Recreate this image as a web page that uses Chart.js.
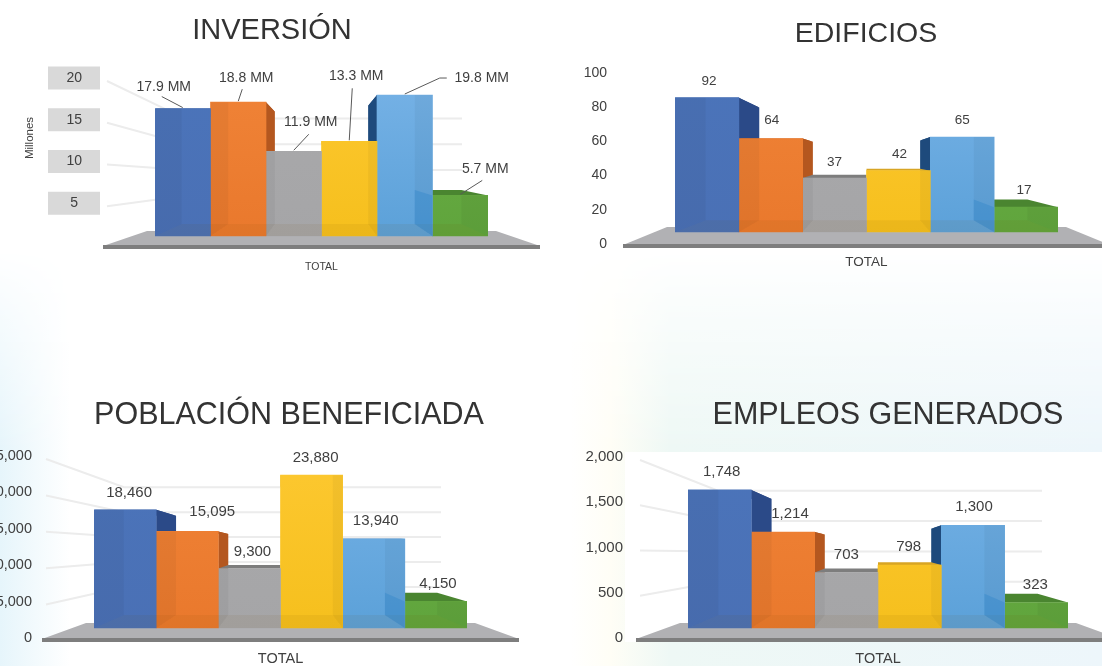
<!DOCTYPE html>
<html>
<head>
<meta charset="utf-8">
<title>Resumen</title>
<script src="https://cdn.jsdelivr.net/npm/chart.js@4"></script>
<style>
    html, body { margin: 0; padding: 0; }
    body { position: relative; width: 1102px; height: 666px; overflow: hidden; background: #fff; }
    #tint {
        position: absolute; left: 0; top: 250px; width: 1102px; height: 416px;
        background: linear-gradient(90deg, #e6f5fb 0, #fff 70px, #fff 570px, #fffef6 610px, #eef8f5 670px, #edf6fb 1102px);
        -webkit-mask-image: linear-gradient(180deg, transparent 0, rgba(0,0,0,0.35) 60px, #000 200px);
        mask-image: linear-gradient(180deg, transparent 0, rgba(0,0,0,0.35) 60px, #000 200px);
    }
    #paper { position: absolute; left: 625px; top: 452px; width: 477px; height: 190px; background: #fff; }
    canvas { position: absolute; filter: blur(0.4px); }
</style>
</head>
<body>
<div id="tint"></div>
<div id="paper"></div>
<canvas id="inversion"></canvas>
<canvas id="edificios"></canvas>
<canvas id="poblacion"></canvas>
<canvas id="empleos"></canvas>
<script>
    // Data
    const categories = ['TOTAL'];
    const inversionValues = [17.9, 18.8, 11.9, 13.3, 19.8, 5.7];
    const edificiosValues = [92, 64, 37, 42, 65, 17];
    const poblacionValues = [18460, 15095, 9300, 23880, 13940, 4150];
    const empleosValues = [1748, 1214, 703, 798, 1300, 323];

    const inversionTicks = [5, 10, 15, 20];
    const edificiosTicks = [0, 20, 40, 60, 80, 100];
    const poblacionTicks = [0, 5000, 10000, 15000, 20000, 25000];
    const empleosTicks = [0, 500, 1000, 1500, 2000];

    // Colours per bar: front top, front bottom, shaded side
    const barColors = ['#4b74ba', '#f08337', '#a9a9ab', '#fdc830', '#76b2e6', '#6cae46'];
    const barColorsLow = ['#4a70b5', '#e9782c', '#a5a5a7', '#f5bf1c', '#5aa0d8', '#5fa43c'];
    const sideColors = ['#2b4a88', '#b4571f', '#7d7d7d', '#d8a524', '#1e4a7c', '#4a8530'];
    const fontName = '"Liberation Sans", Arial, sans-serif';

    function formatPlain(v) {
        return v.toLocaleString('en-US');
    }

    // Draws the floor, back wall lines, box faces and labels around the real bars
    function makeScene(cfg) {
        function project(chart, x, y) {
            const a = chart.chartArea;
            const vx = (a.left + a.right) / 2;
            const vy = a.top + (a.bottom - a.top) * 0.5;
            return [x + (vx - x) * 0.16, y + (vy - y) * 0.16];
        }
        function poly(ctx, pts, color) {
            ctx.fillStyle = color;
            ctx.beginPath();
            pts.forEach((p, i) => i ? ctx.lineTo(p[0], p[1]) : ctx.moveTo(p[0], p[1]));
            ctx.closePath();
            ctx.fill();
        }
        function barBox(chart, i) {
            const b = chart.getDatasetMeta(i).data[0];
            return { x1: b.x - b.width / 2, x2: b.x + b.width / 2, top: b.y, base: b.base, cx: b.x };
        }
        return {
            id: 'scene',
            afterLayout(chart) {
                // Center the title on the whole canvas, not only up to the padding
                chart.titleBlock.left = 0;
                chart.titleBlock.right = chart.width;
            },
            beforeDatasetsDraw(chart) {
                const ctx = chart.ctx, a = chart.chartArea;
                const front = chart.scales.y, back = chart.scales.yBack;
                ctx.save();

                // Perspective grid lines
                if (cfg.grid) {
                    ctx.strokeStyle = '#ececec';
                    ctx.lineWidth = 2;
                    cfg.ticks.forEach(v => {
                        if (v === 0) return;
                        const yf = front.getPixelForValue(v);
                        const yb = back.getPixelForValue(v);
                        const yw = yb + (yb - yf) * 1.6;
                        ctx.beginPath();
                        ctx.moveTo(a.left - 48, yf + 3);
                        ctx.lineTo(a.left + 30, yw);
                        ctx.lineTo(a.right - 26, yw);
                        ctx.stroke();
                    });
                }

                // Floor
                const y0 = front.getPixelForValue(0);
                const yb0 = back.getPixelForValue(0);
                poly(ctx, [[a.left - 8, yb0 - 5], [a.right + 8, yb0 - 5], [a.right + 52, y0 + 1], [a.left - 52, y0 + 1]], '#b1b1b4');
                ctx.fillStyle = '#7e7e7e';
                ctx.fillRect(a.left - 52, y0, a.right - a.left + 104, 4);

                // Back faces, outer bars first so that inner ones sit on top
                [0, 5, 1, 4, 2, 3].forEach(i => {
                    const b = barBox(chart, i);
                    const mid = (a.left + a.right) / 2;
                    const edge = b.cx < mid ? b.x2 : b.x1;
                    poly(ctx, [[b.x1, b.top], [b.x2, b.top], project(chart, b.x2, b.top), project(chart, b.x1, b.top)], sideColors[i]);
                    poly(ctx, [[edge, b.top], [edge, b.base], project(chart, edge, b.base), project(chart, edge, b.top)], sideColors[i]);
                });
                ctx.restore();
            },
            afterDatasetsDraw(chart) {
                const ctx = chart.ctx, a = chart.chartArea;
                const mid = (a.left + a.right) / 2;
                ctx.save();

                // Faces seen through the translucent fronts
                for (let i = 0; i < 6; i++) {
                    const b = barBox(chart, i);
                    const outer = b.cx < mid ? b.x1 : b.x2;
                    poly(ctx, [[b.x1, b.base], [b.x2, b.base], project(chart, b.x2, b.base), project(chart, b.x1, b.base)], 'rgba(120,70,0,0.07)');
                    poly(ctx, [[outer, b.top], [outer, b.base], project(chart, outer, b.base), [project(chart, outer, b.top)[0], b.top]], 'rgba(0,0,0,0.04)');
                }
                const g = barBox(chart, 5);
                const gp = project(chart, g.x1, g.base), gt = project(chart, g.x1, g.top);
                poly(ctx, [[g.x1, g.top], [g.x1, g.base], gp, gt], 'rgba(40,130,200,0.35)');

                // Leader lines
                ctx.strokeStyle = '#595959';
                ctx.lineWidth = 1;
                (cfg.leaders || []).forEach((pts, i) => {
                    const b = barBox(chart, i);
                    ctx.beginPath();
                    ctx.moveTo(b.cx, b.top - 1);
                    pts.forEach(p => ctx.lineTo(b.cx + p[0], b.top + p[1]));
                    ctx.stroke();
                });

                // Value labels
                ctx.fillStyle = '#404040';
                ctx.font = cfg.labelSize + 'px ' + fontName;
                ctx.textAlign = 'center';
                ctx.textBaseline = 'middle';
                cfg.values.forEach((v, i) => {
                    const b = barBox(chart, i);
                    const off = cfg.labelOffsets[i];
                    ctx.fillText(cfg.format(v), b.cx + off[0], b.top + off[1]);
                });
                ctx.restore();
            },
            beforeDraw(chart) {
                if (!cfg.boxes) return;
                const ctx = chart.ctx, front = chart.scales.y;
                ctx.save();
                ctx.fillStyle = '#d9d9d9';
                cfg.ticks.forEach(v => {
                    ctx.fillRect(48, front.getPixelForValue(v) - 11.5, 52, 23);
                });
                ctx.fillStyle = '#404040';
                ctx.font = '11.5px ' + fontName;
                ctx.textAlign = 'center';
                ctx.textBaseline = 'middle';
                ctx.translate(30, 138);
                ctx.rotate(-Math.PI / 2);
                ctx.fillText('Millones', 0, 0);
                ctx.restore();
            }
        };
    }

    function drawPanel(cfg) {
        const canvas = document.getElementById(cfg.id);
        canvas.style.left = cfg.left + 'px';
        canvas.style.top = cfg.top + 'px';
        canvas.style.width = cfg.width + 'px';
        canvas.style.height = cfg.height + 'px';
        canvas.width = cfg.width;
        canvas.height = cfg.height;

        const lineH = cfg.titleSize * 1.2;
        const padTop = cfg.titleY - cfg.top - lineH / 2;
        const padBottom = cfg.frontTop - cfg.top - padTop - lineH;
        const pxPerUnit = cfg.pxPerUnit;

        new Chart(canvas, {
            type: 'bar',
            data: {
                labels: categories,
                datasets: cfg.values.map((v, i) => ({
                    label: cfg.format(v),
                    data: [v],
                    yAxisID: 'yBack',
                    backgroundColor: function(c) {
                        const area = c.chart.chartArea;
                        if (!area) return barColors[i];
                        const g = c.chart.ctx.createLinearGradient(0, area.top, 0, area.bottom);
                        g.addColorStop(0, barColors[i]);
                        g.addColorStop(1, barColorsLow[i]);
                        return g;
                    },
                    categoryPercentage: 1,
                    barPercentage: 1
                }))
            },
            options: {
                responsive: false,
                animation: false,
                layout: { padding: { left: 0, right: cfg.left + cfg.width - cfg.plotRight, top: 0, bottom: 0 } },
                plugins: {
                    legend: { display: false },
                    tooltip: { enabled: false },
                    title: {
                        display: true,
                        text: cfg.title,
                        color: '#333333',
                        font: { family: fontName, size: cfg.titleSize, weight: 'normal', lineHeight: 1.2 },
                        padding: { top: padTop, bottom: padBottom }
                    }
                },
                scales: {
                    x: {
                        grid: { display: false, drawTicks: false },
                        border: { display: false },
                        ticks: { color: '#404040', padding: cfg.totalPad, font: { family: fontName, size: cfg.totalSize } },
                        afterFit: function(s) { s.height = cfg.top + cfg.height - cfg.frontZero; }
                    },
                    y: {
                        min: 0,
                        max: cfg.ticks[cfg.ticks.length - 1],
                        grid: { display: false, drawTicks: false },
                        border: { display: false },
                        ticks: {
                            color: '#404040',
                            padding: cfg.tickPad,
                            crossAlign: cfg.boxes ? 'center' : 'near',
                            font: { family: fontName, size: cfg.tickSize },
                            callback: function(v) { return formatPlain(v); }
                        },
                        afterBuildTicks: function(s) { s.ticks = cfg.ticks.map(v => ({ value: v })); },
                        afterFit: function(s) {
                            s.width = cfg.plotLeft - cfg.left;
                            // the long tick padding must not eat into the chart height
                            s.paddingTop = 0;
                            s.paddingBottom = 0;
                        }
                    },
                    // Bars stand further back than the printed axis, so they get their own scale
                    yBack: {
                        display: false,
                        min: (cfg.barZero - cfg.frontZero) / pxPerUnit,
                        max: (cfg.barZero - cfg.frontTop) / pxPerUnit
                    }
                }
            },
            plugins: [makeScene(cfg)]
        });
    }

    drawPanel({
        id: 'inversion', title: 'INVERSIÓN', titleSize: 29, titleY: 31,
        left: 0, top: 0, width: 544, height: 290,
        plotLeft: 155, plotRight: 488, frontTop: 78, frontZero: 245, barZero: 236, pxPerUnit: 7.12,
        values: inversionValues, ticks: inversionTicks, format: v => v + ' MM',
        tickSize: 14, tickPad: 73, labelSize: 14, totalSize: 10.5, totalPad: 16, grid: true, boxes: true,
        labelOffsets: [[-19, -21], [8, -24], [17, -29], [7, -65], [77, -17], [25, -26]],
        leaders: [[[-21, -12]], [[4, -13]], [[15, -17]], [[3, -53]], [[35, -17], [42, -17]], [[22, -15]]]
    });

    drawPanel({
        id: 'edificios', title: 'EDIFICIOS', titleSize: 28.5, titleY: 34,
        left: 570, top: 0, width: 592, height: 290,
        plotLeft: 675, plotRight: 1058, frontTop: 73, frontZero: 244, barZero: 232, pxPerUnit: 1.46,
        values: edificiosValues, ticks: edificiosTicks, format: formatPlain,
        tickSize: 14, tickPad: 68, labelSize: 13.5, totalSize: 13.5, totalPad: 10, grid: false, boxes: false,
        labelOffsets: [[2, -16], [1, -18], [0, -16], [1, -16], [0, -17], [-2, -17]]
    });

    drawPanel({
        id: 'poblacion', title: 'POBLACIÓN BENEFICIADA', titleSize: 30.5, titleY: 416,
        left: -40, top: 380, width: 658, height: 286,
        plotLeft: 94, plotRight: 467, frontTop: 456, frontZero: 638, barZero: 628, pxPerUnit: 0.0064,
        values: poblacionValues, ticks: poblacionTicks, format: formatPlain,
        tickSize: 14.5, tickPad: 62, labelSize: 15, totalSize: 14.5, totalPad: 12, grid: true, boxes: false,
        labelOffsets: [[4, -17], [25, -20], [3, -17], [4, -17], [2, -18], [2, -18]]
    });

    drawPanel({
        id: 'empleos', title: 'EMPLEOS GENERADOS', titleSize: 30.5, titleY: 416,
        left: 570, top: 380, width: 636, height: 286,
        plotLeft: 688, plotRight: 1068, frontTop: 457, frontZero: 638, barZero: 628, pxPerUnit: 0.079,
        values: empleosValues, ticks: empleosTicks, format: formatPlain,
        tickSize: 15, tickPad: 65, labelSize: 15, totalSize: 14.5, totalPad: 12, grid: true, boxes: false,
        labelOffsets: [[2, -18], [7, -18], [0, -18], [-1, -18], [1, -18], [-1, -18]]
    });
</script>
</body>
</html>
